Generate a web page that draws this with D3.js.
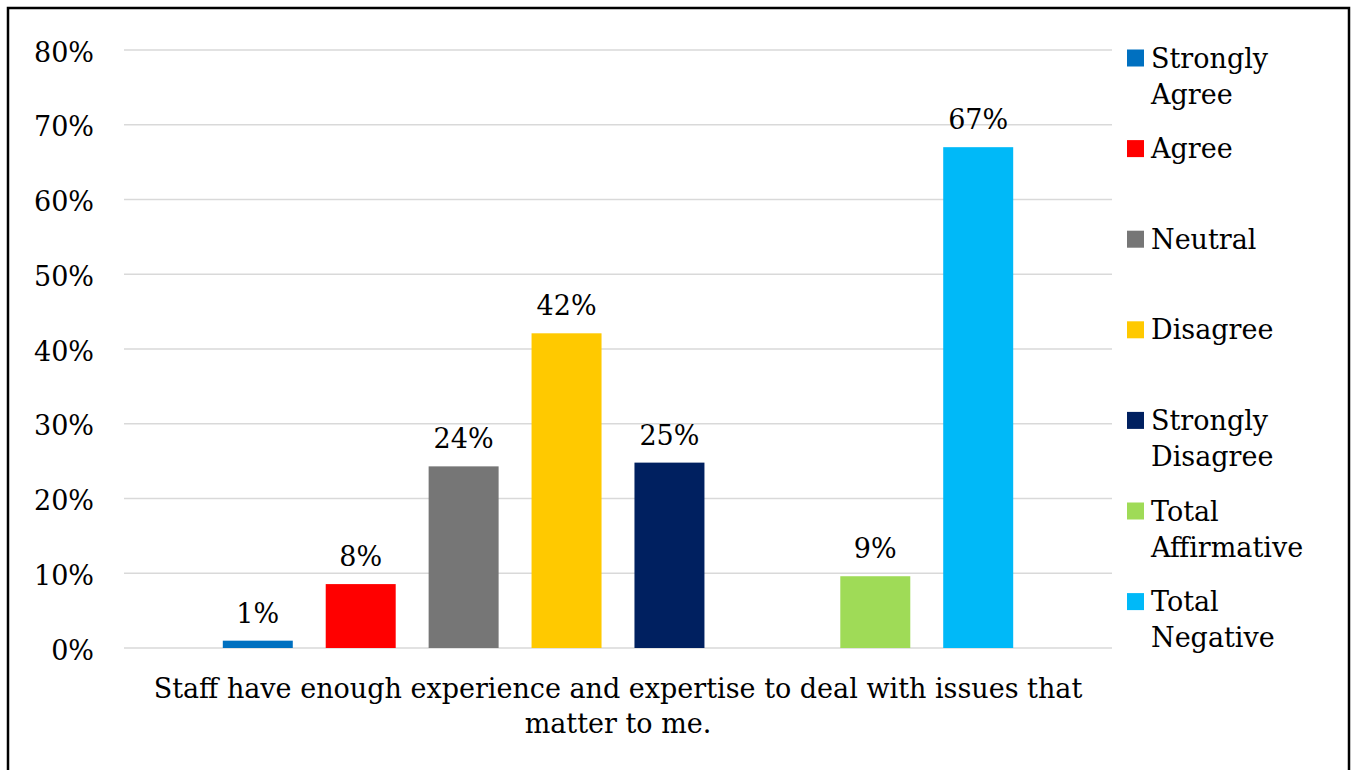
<!DOCTYPE html>
<html>
<head>
<meta charset="utf-8">
<script src="https://cdn.jsdelivr.net/npm/d3@7/dist/d3.min.js"></script>
<style>
  html, body { margin: 0; padding: 0; background: #fff; }
  svg { display: block; }
  text { font-family: "DejaVu Serif", "Liberation Serif", serif; fill: #000; }
</style>
</head>
<body>
<svg id="chart" width="1353" height="770"></svg>
<script>
// ---- data ----
const seriesNames = ["Strongly Agree", "Agree", "Neutral", "Disagree", "Strongly Disagree", "", "Total Affirmative", "Total Negative"];
const seriesValues = [0.98, 8.55, 24.3, 42.1, 24.8, null, 9.6, 67.0];
const dataLabels = ["1%", "8%", "24%", "42%", "25%", "", "9%", "67%"];
const seriesColors = ["#0070c0", "#ff0000", "#767676", "#ffc900", "#002060", null, "#9fdb57", "#00b9f8"];
const legendNames = ["Strongly Agree", "Agree", "Neutral", "Disagree", "Strongly Disagree", "Total Affirmative", "Total Negative"];
const legendLines = [["Strongly", "Agree"], ["Agree"], ["Neutral"], ["Disagree"], ["Strongly", "Disagree"], ["Total", "Affirmative"], ["Total", "Negative"]];
const legendColors = ["#0070c0", "#ff0000", "#767676", "#ffc900", "#002060", "#9fdb57", "#00b9f8"];
const yTicks = [0, 10, 20, 30, 40, 50, 60, 70, 80];
const categoryLines = ["Staff have enough experience and expertise to deal with issues that", "matter to me."];

// ---- layout ----
const svg = d3.select("#chart");
const FS = 27;
const plot = { left: 124, right: 1112, top: 50, bottom: 648 };

svg.append("rect")
  .attr("x", 8).attr("y", 8).attr("width", 1341).attr("height", 800)
  .attr("fill", "none").attr("stroke", "#000").attr("stroke-width", 2.5);

const slots = seriesNames.map((d, i) => "s" + i);
const x = d3.scaleBand().domain(slots).range([plot.left, plot.right])
  .paddingInner(0.32).paddingOuter(0.96);
const y = d3.scaleLinear().domain([0, 80]).range([plot.bottom, plot.top]);

// gridlines
svg.append("g").selectAll("line").data(yTicks).join("line")
  .attr("x1", plot.left).attr("x2", plot.right)
  .attr("y1", d => y(d)).attr("y2", d => y(d))
  .attr("stroke", "#d9d9d9").attr("stroke-width", 1.5);

// y axis labels via d3 axis
const yAxis = d3.axisLeft(y).tickValues(yTicks).tickFormat(d => d + "%").tickSize(0).tickPadding(0);
const gy = svg.append("g").attr("transform", `translate(${94},0)`).call(yAxis);
gy.select(".domain").remove();
gy.selectAll("text").attr("font-size", FS).attr("font-family", '"DejaVu Serif", serif')
  .attr("fill", "#000").attr("dy", null).attr("dominant-baseline", null)
  .attr("y", 11);

// bars
const barData = seriesValues.map((v, i) => ({ v, i })).filter(d => d.v !== null);
svg.append("g").selectAll("rect").data(barData).join("rect")
  .attr("x", d => x(slots[d.i])).attr("width", x.bandwidth())
  .attr("y", d => y(d.v)).attr("height", d => y(0) - y(d.v))
  .attr("fill", d => seriesColors[d.i]);

// data labels
svg.append("g").selectAll("text").data(barData).join("text")
  .attr("x", d => x(slots[d.i]) + x.bandwidth() / 2)
  .attr("y", d => y(d.v) - 18)
  .attr("text-anchor", "middle").attr("font-size", FS)
  .text(d => dataLabels[d.i]);

// category label
svg.append("g").selectAll("text").data(categoryLines).join("text")
  .attr("x", (plot.left + plot.right) / 2)
  .attr("y", (d, i) => 698 + i * 35)
  .attr("text-anchor", "middle").attr("font-size", FS)
  .text(d => d);

// legend
const lg = svg.append("g").selectAll("g").data(legendNames).join("g")
  .attr("transform", (d, i) => `translate(1127,${49.5 + i * 90.6})`);
lg.append("rect").attr("width", 17).attr("height", 17).attr("fill", (d, i) => legendColors[i]);
lg.each(function(d, i) {
  const g = d3.select(this);
  legendLines[i].forEach((line, j) => {
    g.append("text").attr("x", 24).attr("y", 18 + j * 36).attr("font-size", FS).text(line);
  });
});
</script>
</body>
</html>
